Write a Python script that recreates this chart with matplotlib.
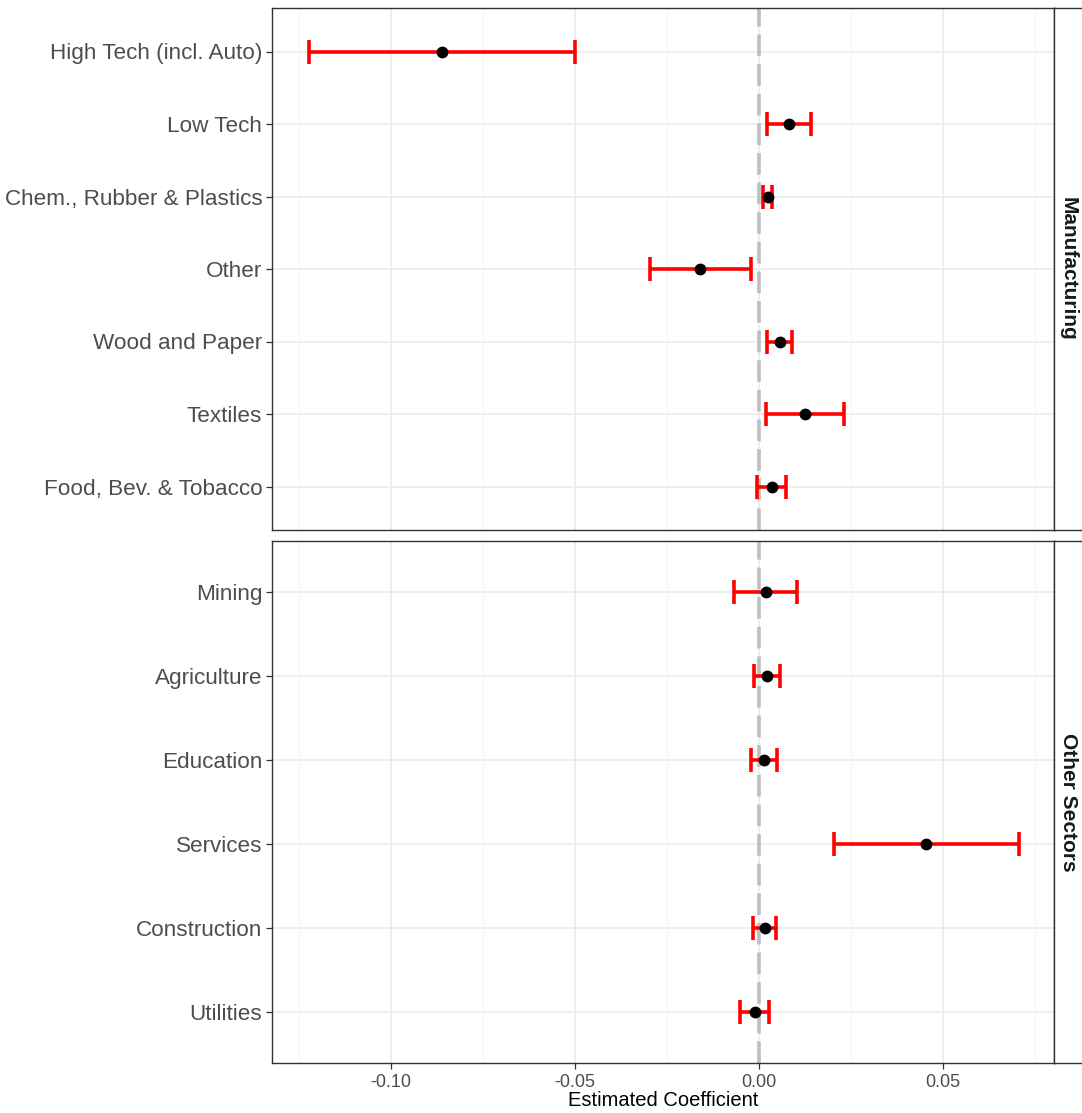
import numpy as np
import matplotlib.pyplot as plt
from matplotlib.ticker import MultipleLocator

plt.rcParams['font.family'] = ['Liberation Sans', 'DejaVu Sans']

# coefficient estimates with lower / upper bounds, listed top to bottom
mfg_labels = ['High Tech (incl. Auto)', 'Low Tech', 'Chem., Rubber & Plastics', 'Other',
              'Wood and Paper', 'Textiles', 'Food, Bev. & Tobacco']
mfg_est = [-0.0860, 0.0082, 0.0025, -0.0158, 0.0058, 0.0126, 0.0035]
mfg_lo = [-0.1222, 0.0022, 0.0012, -0.0294, 0.0022, 0.0020, -0.0004]
mfg_hi = [-0.0499, 0.0141, 0.0037, -0.0021, 0.0091, 0.0233, 0.0073]

oth_labels = ['Mining', 'Agriculture', 'Education', 'Services', 'Construction', 'Utilities']
oth_est = [0.0020, 0.0023, 0.0015, 0.0455, 0.0018, -0.0010]
oth_lo = [-0.0066, -0.0012, -0.0020, 0.0204, -0.0014, -0.0050]
oth_hi = [0.0105, 0.0058, 0.0049, 0.0706, 0.0048, 0.0029]

panels = [('Manufacturing', mfg_labels, mfg_est, mfg_lo, mfg_hi),
          ('Other Sectors', oth_labels, oth_est, oth_lo, oth_hi)]

W, H = 1082, 1113
fig = plt.figure(figsize=(W / 100, H / 100), dpi=100)

def px_axes(x0, y0, x1, y1):
    return fig.add_axes([x0 / W, 1 - y1 / H, (x1 - x0) / W, (y1 - y0) / H])

boxes = [(8, 530), (541, 1063)]
xmin, xmax = -0.1322, 0.0801

for (name, labels, est, lo, hi), (top, bot) in zip(panels, boxes):
    ax = px_axes(272, top, 1053.5, bot)
    n = len(labels)
    y = np.arange(n)[::-1]
    est = np.array(est)
    err = [est - np.array(lo), np.array(hi) - est]

    ax.axvline(0, color='#BEBEBE', lw=2.6, dashes=(6, 2.2), zorder=2)
    ax.errorbar(est, y, xerr=err, fmt='none', ecolor='red', elinewidth=2.6,
                capsize=8.5, capthick=2.6, zorder=3)
    ax.plot(est, y, 'o', color='black', ms=7.5, zorder=4)

    ax.set_xlim(xmin, xmax)
    ax.set_ylim(-0.6, n - 1 + 0.6)
    ax.set_yticks(y)
    ax.set_yticklabels(labels, fontsize=16.2, color='#4D4D4D')
    ax.xaxis.set_major_locator(MultipleLocator(0.05))
    ax.xaxis.set_minor_locator(MultipleLocator(0.025))
    ax.grid(which='major', color='#EBEBEB', lw=1.2, zorder=0)
    ax.grid(which='minor', axis='x', color='#F2F2F2', lw=0.7, zorder=0)
    ax.set_axisbelow(True)
    for s in ax.spines.values():
        s.set_color('#333333')
        s.set_linewidth(1.0)
    ax.tick_params(axis='both', which='major', length=4, color='#333333', width=0.9)
    ax.tick_params(axis='x', which='minor', length=0)
    ax.tick_params(axis='y', pad=3)

    if bot == 1063:
        ax.set_xticks([-0.10, -0.05, 0.00, 0.05])
        ax.set_xticklabels(['-0.10', '-0.05', '0.00', '0.05'], fontsize=13, color='#4D4D4D')
        ax.tick_params(axis='x', pad=4)
        ax.set_xlabel('Estimated Coefficient', fontsize=14.5, labelpad=0)
    else:
        ax.tick_params(axis='x', which='major', length=0, labelbottom=False)

    # facet strip on the right side
    st = px_axes(1053.5, top, 1090, bot)
    st.set_xticks([])
    st.set_yticks([])
    st.set_facecolor('white')
    for s in st.spines.values():
        s.set_color('#333333')
        s.set_linewidth(1.0)
    st.text(0.40, 0.5, name, rotation=-90, ha='center', va='center',
            fontsize=15, fontweight='bold', color='#1A1A1A', transform=st.transAxes)

plt.savefig('out.png', dpi=100)
